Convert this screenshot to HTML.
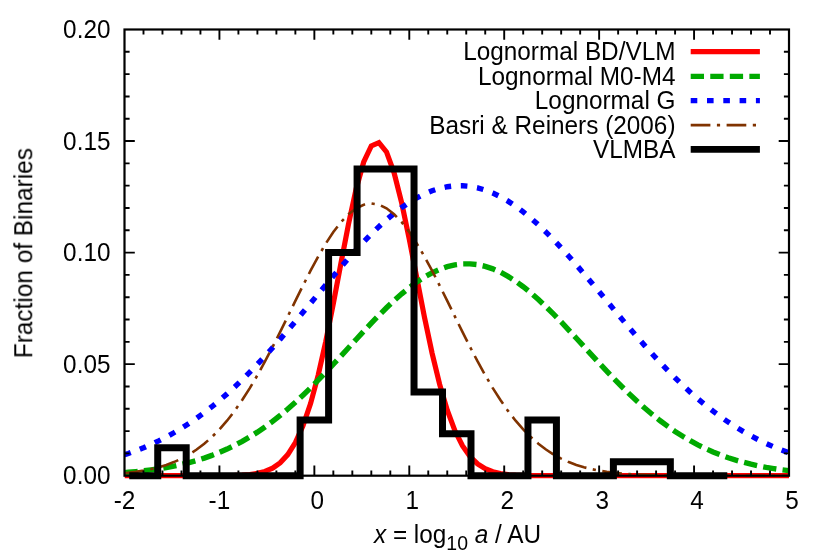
<!DOCTYPE html>
<html><head><meta charset="utf-8"><title>Separation distribution of binaries</title>
<style>
html,body{margin:0;padding:0;background:#fff;}
svg{display:block;}
text{font-family:"Liberation Sans",sans-serif;font-size:24.5px;fill:#000;}
</style></head><body>
<svg width="830" height="554" viewBox="0 0 830 554">
<rect width="830" height="554" fill="#fff"/>
<defs><clipPath id="c"><rect x="124.5" y="24.5" width="664.5" height="456.2"/></clipPath></defs>
<g fill="none" clip-path="url(#c)" stroke-linejoin="miter">
<path d="M124.50,475.70 L128.30,475.70 L135.89,475.70 L143.49,475.70 L151.08,475.70 L158.67,475.70 L166.27,475.70 L173.86,475.70 L181.46,475.70 L189.05,475.70 L196.65,475.70 L204.24,475.69 L211.83,475.67 L219.43,475.64 L227.02,475.56 L234.62,475.41 L242.21,475.09 L249.81,474.48 L257.40,473.36 L264.99,471.40 L272.59,468.10 L280.18,462.78 L287.78,454.62 L295.37,442.63 L302.97,425.88 L310.56,403.57 L318.15,375.37 L325.75,341.61 L333.34,303.53 L340.94,263.29 L348.53,223.93 L356.13,188.98 L363.72,161.98 L371.31,145.90 L378.91,142.56 L386.50,151.94 L394.10,172.81 L401.69,202.92 L409.29,239.21 L416.88,278.33 L424.47,317.14 L432.07,353.07 L439.66,384.41 L447.26,410.27 L454.85,430.56 L462.45,445.72 L470.04,456.53 L477.63,463.90 L485.23,468.71 L492.82,471.71 L500.42,473.51 L508.01,474.54 L515.61,475.11 L523.20,475.41 L530.79,475.56 L538.39,475.64 L545.98,475.67 L553.58,475.69 L561.17,475.70 L568.77,475.70 L576.36,475.70 L583.95,475.70 L591.55,475.70 L599.14,475.70 L606.74,475.70 L614.33,475.70 L621.93,475.70 L629.52,475.70 L637.11,475.70 L644.71,475.70 L652.30,475.70 L659.90,475.70 L667.49,475.70 L675.09,475.70 L682.68,475.70 L690.27,475.70 L697.87,475.70 L705.46,475.70 L713.06,475.70 L720.65,475.70 L728.25,475.70 L735.84,475.70 L743.43,475.70 L751.03,475.70 L758.62,475.70 L766.22,475.70 L773.81,475.70 L781.41,475.70 L789.00,475.70" stroke="#ff0000" stroke-width="5.2"/>
<path d="M124.50,472.61 L128.30,472.31 L135.89,471.63 L143.49,470.83 L151.08,469.89 L158.67,468.81 L166.27,467.56 L173.86,466.12 L181.46,464.48 L189.05,462.60 L196.65,460.48 L204.24,458.09 L211.83,455.41 L219.43,452.41 L227.02,449.09 L234.62,445.41 L242.21,441.37 L249.81,436.96 L257.40,432.15 L264.99,426.96 L272.59,421.37 L280.18,415.39 L287.78,409.04 L295.37,402.32 L302.97,395.25 L310.56,387.88 L318.15,380.22 L325.75,372.34 L333.34,364.26 L340.94,356.05 L348.53,347.77 L356.13,339.49 L363.72,331.27 L371.31,323.19 L378.91,315.33 L386.50,307.76 L394.10,300.57 L401.69,293.83 L409.29,287.61 L416.88,281.99 L424.47,277.03 L432.07,272.79 L439.66,269.32 L447.26,266.66 L454.85,264.85 L462.45,263.90 L470.04,263.83 L477.63,264.65 L485.23,266.33 L492.82,268.87 L500.42,272.22 L508.01,276.35 L515.61,281.20 L523.20,286.73 L530.79,292.86 L538.39,299.53 L545.98,306.66 L553.58,314.17 L561.17,321.99 L568.77,330.05 L576.36,338.25 L583.95,346.53 L591.55,354.81 L599.14,363.03 L606.74,371.13 L614.33,379.06 L621.93,386.75 L629.52,394.17 L637.11,401.28 L644.71,408.05 L652.30,414.46 L659.90,420.50 L667.49,426.14 L675.09,431.40 L682.68,436.26 L690.27,440.73 L697.87,444.83 L705.46,448.56 L713.06,451.93 L720.65,454.98 L728.25,457.71 L735.84,460.14 L743.43,462.30 L751.03,464.21 L758.62,465.89 L766.22,467.36 L773.81,468.63 L781.41,469.74 L789.00,470.69" stroke="#00aa00" stroke-width="5.4" stroke-dasharray="13.3 6.25"/>
<path d="M124.50,454.73 L128.30,453.46 L135.89,450.71 L143.49,447.70 L151.08,444.42 L158.67,440.84 L166.27,436.96 L173.86,432.76 L181.46,428.23 L189.05,423.37 L196.65,418.17 L204.24,412.62 L211.83,406.72 L219.43,400.47 L227.02,393.88 L234.62,386.95 L242.21,379.70 L249.81,372.13 L257.40,364.26 L264.99,356.12 L272.59,347.73 L280.18,339.12 L287.78,330.33 L295.37,321.38 L302.97,312.33 L310.56,303.21 L318.15,294.08 L325.75,284.97 L333.34,275.95 L340.94,267.07 L348.53,258.38 L356.13,249.93 L363.72,241.79 L371.31,234.01 L378.91,226.65 L386.50,219.75 L394.10,213.37 L401.69,207.55 L409.29,202.35 L416.88,197.79 L424.47,193.92 L432.07,190.77 L439.66,188.35 L447.26,186.70 L454.85,185.82 L462.45,185.73 L470.04,186.41 L477.63,187.87 L485.23,190.09 L492.82,193.06 L500.42,196.76 L508.01,201.15 L515.61,206.19 L523.20,211.86 L530.79,218.10 L538.39,224.88 L545.98,232.13 L553.58,239.81 L561.17,247.87 L568.77,256.24 L576.36,264.88 L583.95,273.72 L591.55,282.71 L599.14,291.80 L606.74,300.93 L614.33,310.06 L621.93,319.13 L629.52,328.11 L637.11,336.94 L644.71,345.60 L652.30,354.05 L659.90,362.25 L667.49,370.19 L675.09,377.83 L682.68,385.17 L690.27,392.18 L697.87,398.86 L705.46,405.19 L713.06,411.18 L720.65,416.81 L728.25,422.10 L735.84,427.05 L743.43,431.66 L751.03,435.94 L758.62,439.90 L766.22,443.55 L773.81,446.91 L781.41,449.98 L789.00,452.79" stroke="#0000ff" stroke-width="5.4" stroke-dasharray="6.6 9.7"/>
<path d="M124.50,473.17 L128.30,472.78 L135.89,471.84 L143.49,470.65 L151.08,469.14 L158.67,467.25 L166.27,464.92 L173.86,462.07 L181.46,458.61 L189.05,454.47 L196.65,449.56 L204.24,443.79 L211.83,437.10 L219.43,429.41 L227.02,420.69 L234.62,410.89 L242.21,400.02 L249.81,388.11 L257.40,375.22 L264.99,361.45 L272.59,346.94 L280.18,331.86 L287.78,316.44 L295.37,300.91 L302.97,285.57 L310.56,270.70 L318.15,256.62 L325.75,243.63 L333.34,232.05 L340.94,222.14 L348.53,214.15 L356.13,208.30 L363.72,204.72 L371.31,203.52 L378.91,204.72 L386.50,208.30 L394.10,214.15 L401.69,222.14 L409.29,232.05 L416.88,243.63 L424.47,256.62 L432.07,270.70 L439.66,285.57 L447.26,300.91 L454.85,316.44 L462.45,331.86 L470.04,346.94 L477.63,361.45 L485.23,375.22 L492.82,388.11 L500.42,400.02 L508.01,410.89 L515.61,420.69 L523.20,429.41 L530.79,437.10 L538.39,443.79 L545.98,449.56 L553.58,454.47 L561.17,458.61 L568.77,462.07 L576.36,464.92 L583.95,467.25 L591.55,469.14 L599.14,470.65 L606.74,471.84 L614.33,472.78 L621.93,473.51 L629.52,474.07 L637.11,474.50 L644.71,474.83 L652.30,475.07 L659.90,475.25 L667.49,475.38 L675.09,475.47 L682.68,475.54 L690.27,475.59 L697.87,475.62 L705.46,475.65 L713.06,475.67 L720.65,475.68 L728.25,475.68 L735.84,475.69 L743.43,475.69 L751.03,475.70 L758.62,475.70 L766.22,475.70 L773.81,475.70 L781.41,475.70 L789.00,475.70" stroke="#803300" stroke-width="2.6" stroke-dasharray="19.7 6.5 3.2 6.5"/>
</g>
<g fill="none" stroke="#000" stroke-width="2.2">
<path d="M143.49,475.70 v-5.10 M143.49,29.50 v5.10 M162.47,475.70 v-5.10 M162.47,29.50 v5.10 M181.46,475.70 v-5.10 M181.46,29.50 v5.10 M200.44,475.70 v-5.10 M200.44,29.50 v5.10 M219.43,475.70 v-10.30 M219.43,29.50 v10.30 M238.41,475.70 v-5.10 M238.41,29.50 v5.10 M257.40,475.70 v-5.10 M257.40,29.50 v5.10 M276.39,475.70 v-5.10 M276.39,29.50 v5.10 M295.37,475.70 v-5.10 M295.37,29.50 v5.10 M314.36,475.70 v-10.30 M314.36,29.50 v10.30 M333.34,475.70 v-5.10 M333.34,29.50 v5.10 M352.33,475.70 v-5.10 M352.33,29.50 v5.10 M371.31,475.70 v-5.10 M371.31,29.50 v5.10 M390.30,475.70 v-5.10 M390.30,29.50 v5.10 M409.29,475.70 v-10.30 M409.29,29.50 v10.30 M428.27,475.70 v-5.10 M428.27,29.50 v5.10 M447.26,475.70 v-5.10 M447.26,29.50 v5.10 M466.24,475.70 v-5.10 M466.24,29.50 v5.10 M485.23,475.70 v-5.10 M485.23,29.50 v5.10 M504.21,475.70 v-10.30 M504.21,29.50 v10.30 M523.20,475.70 v-5.10 M523.20,29.50 v5.10 M542.19,475.70 v-5.10 M542.19,29.50 v5.10 M561.17,475.70 v-5.10 M561.17,29.50 v5.10 M580.16,475.70 v-5.10 M580.16,29.50 v5.10 M599.14,475.70 v-10.30 M599.14,29.50 v10.30 M618.13,475.70 v-5.10 M618.13,29.50 v5.10 M637.11,475.70 v-5.10 M637.11,29.50 v5.10 M656.10,475.70 v-5.10 M656.10,29.50 v5.10 M675.09,475.70 v-5.10 M675.09,29.50 v5.10 M694.07,475.70 v-10.30 M694.07,29.50 v10.30 M713.06,475.70 v-5.10 M713.06,29.50 v5.10 M732.04,475.70 v-5.10 M732.04,29.50 v5.10 M751.03,475.70 v-5.10 M751.03,29.50 v5.10 M770.01,475.70 v-5.10 M770.01,29.50 v5.10 M124.50,453.39 h5.10 M789.00,453.39 h-5.10 M124.50,431.08 h5.10 M789.00,431.08 h-5.10 M124.50,408.77 h5.10 M789.00,408.77 h-5.10 M124.50,386.46 h5.10 M789.00,386.46 h-5.10 M124.50,364.15 h10.30 M789.00,364.15 h-10.30 M124.50,341.84 h5.10 M789.00,341.84 h-5.10 M124.50,319.53 h5.10 M789.00,319.53 h-5.10 M124.50,297.22 h5.10 M789.00,297.22 h-5.10 M124.50,274.91 h5.10 M789.00,274.91 h-5.10 M124.50,252.60 h10.30 M789.00,252.60 h-10.30 M124.50,230.29 h5.10 M789.00,230.29 h-5.10 M124.50,207.98 h5.10 M789.00,207.98 h-5.10 M124.50,185.67 h5.10 M789.00,185.67 h-5.10 M124.50,163.36 h5.10 M789.00,163.36 h-5.10 M124.50,141.05 h10.30 M789.00,141.05 h-10.30 M124.50,118.74 h5.10 M789.00,118.74 h-5.10 M124.50,96.43 h5.10 M789.00,96.43 h-5.10 M124.50,74.12 h5.10 M789.00,74.12 h-5.10 M124.50,51.81 h5.10 M789.00,51.81 h-5.10" stroke-width="1.9"/>
<rect x="124.5" y="29.5" width="664.5" height="446.2"/>
</g>
<path d="M129.25,475.70 L157.73,475.70 L157.73,447.81 L186.20,447.81 L186.20,475.70 L214.68,475.70 L214.68,475.70 L243.16,475.70 L243.16,475.70 L271.64,475.70 L271.64,475.70 L300.12,475.70 L300.12,419.93 L328.60,419.93 L328.60,252.60 L357.08,252.60 L357.08,168.94 L385.55,168.94 L385.55,168.94 L414.03,168.94 L414.03,392.04 L442.51,392.04 L442.51,433.87 L470.99,433.87 L470.99,475.70 L499.47,475.70 L499.47,475.70 L527.95,475.70 L527.95,419.93 L556.42,419.93 L556.42,475.70 L584.90,475.70 L584.90,475.70 L613.38,475.70 L613.38,461.76 L641.86,461.76 L641.86,461.76 L670.34,461.76 L670.34,475.70 L698.82,475.70 L698.82,475.70 L727.30,475.70" fill="none" stroke="#000" stroke-width="7" stroke-linejoin="miter"/>
<g fill="none">
<path d="M690.7,51.7 H759.9" stroke="#ff0000" stroke-width="5.2"/>
<path d="M690.7,76.4 H759.9" stroke="#00aa00" stroke-width="5.4" stroke-dasharray="13.3 6.25"/>
<path d="M690.7,100.6 H759.9" stroke="#0000ff" stroke-width="5.4" stroke-dasharray="6.6 9.7"/>
<path d="M690.7,125.1 H759.9" stroke="#803300" stroke-width="2.6" stroke-dasharray="19.7 6.5 3.2 6.5"/>
<path d="M690.7,149.4 H759.9" stroke="#000" stroke-width="6.8"/>
</g>
<g opacity="0.999">
<text transform="translate(124.50,508.50)  scale(0.994,1.045)" text-anchor="middle">-2</text><text transform="translate(219.43,508.50)  scale(0.994,1.045)" text-anchor="middle">-1</text><text transform="translate(317.36,508.50)  scale(0.994,1.045)" text-anchor="middle">0</text><text transform="translate(412.29,508.50)  scale(0.994,1.045)" text-anchor="middle">1</text><text transform="translate(507.21,508.50)  scale(0.994,1.045)" text-anchor="middle">2</text><text transform="translate(602.14,508.50)  scale(0.994,1.045)" text-anchor="middle">3</text><text transform="translate(697.07,508.50)  scale(0.994,1.045)" text-anchor="middle">4</text><text transform="translate(792.00,508.50)  scale(0.994,1.045)" text-anchor="middle">5</text>
<text transform="translate(110.50,484.30)  scale(0.994,1.045)" text-anchor="end">0.00</text><text transform="translate(110.50,372.75)  scale(0.994,1.045)" text-anchor="end">0.05</text><text transform="translate(110.50,261.20)  scale(0.994,1.045)" text-anchor="end">0.10</text><text transform="translate(110.50,149.65)  scale(0.994,1.045)" text-anchor="end">0.15</text><text transform="translate(110.50,38.10)  scale(0.994,1.045)" text-anchor="end">0.20</text>
<text transform="translate(675.50,60.20)  scale(0.994,1.045)" text-anchor="end">Lognormal BD/VLM</text><text transform="translate(675.50,84.90)  scale(0.994,1.045)" text-anchor="end">Lognormal M0-M4</text><text transform="translate(675.50,109.10)  scale(0.994,1.045)" text-anchor="end">Lognormal G</text><text transform="translate(675.50,133.60)  scale(0.994,1.045)" text-anchor="end">Basri &amp; Reiners (2006)</text><text transform="translate(675.50,157.90)  scale(0.994,1.045)" text-anchor="end">VLMBA</text>
<text transform="translate(32.3,253.1) rotate(-90) scale(0.996,1.045)" text-anchor="middle">Fraction of Binaries</text>
<text transform="translate(457.5,543) scale(0.994,1.045)" text-anchor="middle"><tspan font-style="italic">x</tspan> = log<tspan font-size="19.6" dy="7">10</tspan><tspan dy="-7"> </tspan><tspan font-style="italic">a</tspan> / AU</text>
</g>
</svg>
</body></html>
